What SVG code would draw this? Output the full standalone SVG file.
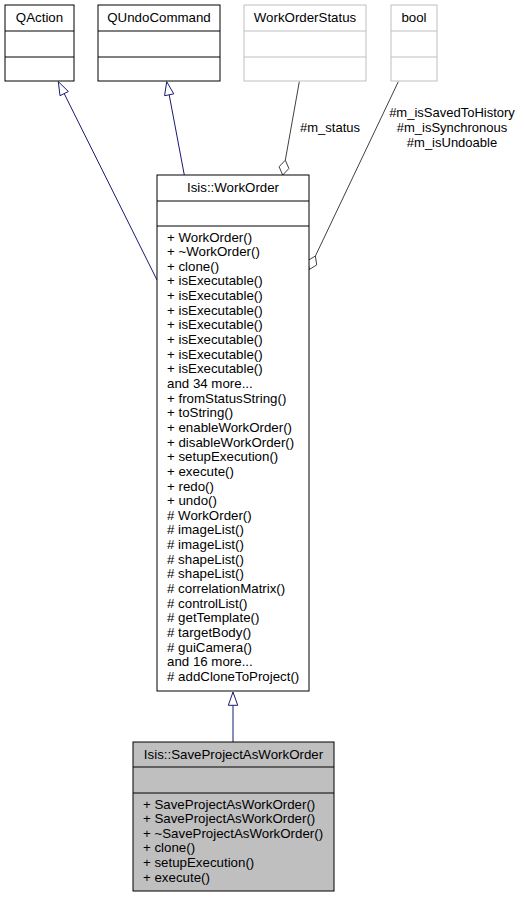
<svg xmlns="http://www.w3.org/2000/svg" width="525" height="897" viewBox="0 0 525 897">
<style>
text { font-family: "Liberation Sans", Arial, Helvetica, sans-serif; font-size: 13.3px; fill: #000; }
.lbl { font-size: 13px; }
.c { text-anchor: middle; }
.box { fill: #fff; stroke: #000; stroke-width: 1; }
.gbox { fill: #fff; stroke: #bfbfbf; stroke-width: 1; }
.sel { fill: #bfbfbf; stroke: #000; stroke-width: 1; }
.div { stroke: #000; stroke-width: 1; }
.gdiv { stroke: #bfbfbf; stroke-width: 1; }
.inh { stroke: #191970; stroke-width: 1; fill: none; }
.inhh { stroke: #191970; stroke-width: 1; fill: #fff; }
.mem { stroke: #404040; stroke-width: 1; fill: none; }
.memh { stroke: #404040; stroke-width: 1; fill: #fff; }
</style>
<rect width="525" height="897" fill="#fff"/>
<g id="edges">
  <path class="inh" d="M157,280 L64.2,93.6"/>
  <polygon class="inhh" points="58.3,81.7 68.4,91.5 60.0,95.7"/>
  <path class="inh" d="M184.3,175 L169.2,94.8"/>
  <polygon class="inhh" points="166.7,81.7 173.8,93.9 164.6,95.7"/>
  <path class="mem" d="M299.3,81.7 L285.3,160.2"/>
  <polygon class="memh" points="282.7,175 288.9,168.5 285.3,160.2 279.1,166.7"/>
  <text class="lbl" x="300" y="131.5">#m_status</text>
  <path class="mem" d="M398.3,81.7 L315.4,256"/>
  <polygon class="memh" points="309.3,269.5 316.7,264.9 315.4,256 307.7,260.6"/>
  <text class="lbl c" x="452" y="116.5">#m_isSavedToHistory</text>
  <text class="lbl c" x="452" y="131.5">#m_isSynchronous</text>
  <text class="lbl c" x="452" y="146.5">#m_isUndoable</text>
  <path class="inh" d="M233,742 L233,705.3"/>
  <polygon class="inhh" points="233,692 237.7,705.3 228.3,705.3"/>
</g>
<g id="QAction">
  <rect class="box" x="5" y="5" width="69" height="76"/>
  <line class="div" x1="5" y1="31" x2="74" y2="31"/>
  <line class="div" x1="5" y1="57" x2="74" y2="57"/>
  <text class="c" x="39.5" y="22">QAction</text>
</g>
<g id="QUndoCommand">
  <rect class="box" x="98" y="5" width="122" height="76"/>
  <line class="div" x1="98" y1="31" x2="220" y2="31"/>
  <line class="div" x1="98" y1="57" x2="220" y2="57"/>
  <text class="c" x="159" y="22">QUndoCommand</text>
</g>
<g id="WorkOrderStatus">
  <rect class="gbox" x="244" y="5" width="122" height="76"/>
  <line class="gdiv" x1="244" y1="31" x2="366" y2="31"/>
  <line class="gdiv" x1="244" y1="57" x2="366" y2="57"/>
  <text class="c" x="305" y="22">WorkOrderStatus</text>
</g>
<g id="bool">
  <rect class="gbox" x="391" y="5" width="46" height="76"/>
  <line class="gdiv" x1="391" y1="31" x2="437" y2="31"/>
  <line class="gdiv" x1="391" y1="57" x2="437" y2="57"/>
  <text class="c" x="414" y="22">bool</text>
</g>
<g id="WorkOrder">
  <rect class="box" x="157" y="175" width="152" height="516"/>
  <line class="div" x1="157" y1="201" x2="309" y2="201"/>
  <line class="div" x1="157" y1="226" x2="309" y2="226"/>
  <text class="c" x="233" y="192">Isis::WorkOrder</text>
  <text x="167" y="241.5"><tspan x="167">+ WorkOrder()</tspan><tspan x="167" dy="14.65">+ ~WorkOrder()</tspan><tspan x="167" dy="14.65">+ clone()</tspan><tspan x="167" dy="14.65">+ isExecutable()</tspan><tspan x="167" dy="14.65">+ isExecutable()</tspan><tspan x="167" dy="14.65">+ isExecutable()</tspan><tspan x="167" dy="14.65">+ isExecutable()</tspan><tspan x="167" dy="14.65">+ isExecutable()</tspan><tspan x="167" dy="14.65">+ isExecutable()</tspan><tspan x="167" dy="14.65">+ isExecutable()</tspan><tspan x="167" dy="14.65">and 34 more...</tspan><tspan x="167" dy="14.65">+ fromStatusString()</tspan><tspan x="167" dy="14.65">+ toString()</tspan><tspan x="167" dy="14.65">+ enableWorkOrder()</tspan><tspan x="167" dy="14.65">+ disableWorkOrder()</tspan><tspan x="167" dy="14.65">+ setupExecution()</tspan><tspan x="167" dy="14.65">+ execute()</tspan><tspan x="167" dy="14.65">+ redo()</tspan><tspan x="167" dy="14.65">+ undo()</tspan><tspan x="167" dy="14.65"># WorkOrder()</tspan><tspan x="167" dy="14.65"># imageList()</tspan><tspan x="167" dy="14.65"># imageList()</tspan><tspan x="167" dy="14.65"># shapeList()</tspan><tspan x="167" dy="14.65"># shapeList()</tspan><tspan x="167" dy="14.65"># correlationMatrix()</tspan><tspan x="167" dy="14.65"># controlList()</tspan><tspan x="167" dy="14.65"># getTemplate()</tspan><tspan x="167" dy="14.65"># targetBody()</tspan><tspan x="167" dy="14.65"># guiCamera()</tspan><tspan x="167" dy="14.65">and 16 more...</tspan><tspan x="167" dy="14.65"># addCloneToProject()</tspan></text>
</g>
<g id="SaveProjectAsWorkOrder">
  <rect class="sel" x="133" y="742" width="201" height="149"/>
  <line class="div" x1="133" y1="767" x2="334" y2="767"/>
  <line class="div" x1="133" y1="793" x2="334" y2="793"/>
  <text class="c" x="233.5" y="758.5">Isis::SaveProjectAsWorkOrder</text>
  <text x="143" y="808.5"><tspan x="143">+ SaveProjectAsWorkOrder()</tspan><tspan x="143" dy="14.6">+ SaveProjectAsWorkOrder()</tspan><tspan x="143" dy="14.6">+ ~SaveProjectAsWorkOrder()</tspan><tspan x="143" dy="14.6">+ clone()</tspan><tspan x="143" dy="14.6">+ setupExecution()</tspan><tspan x="143" dy="14.6">+ execute()</tspan></text>
</g>
</svg>
